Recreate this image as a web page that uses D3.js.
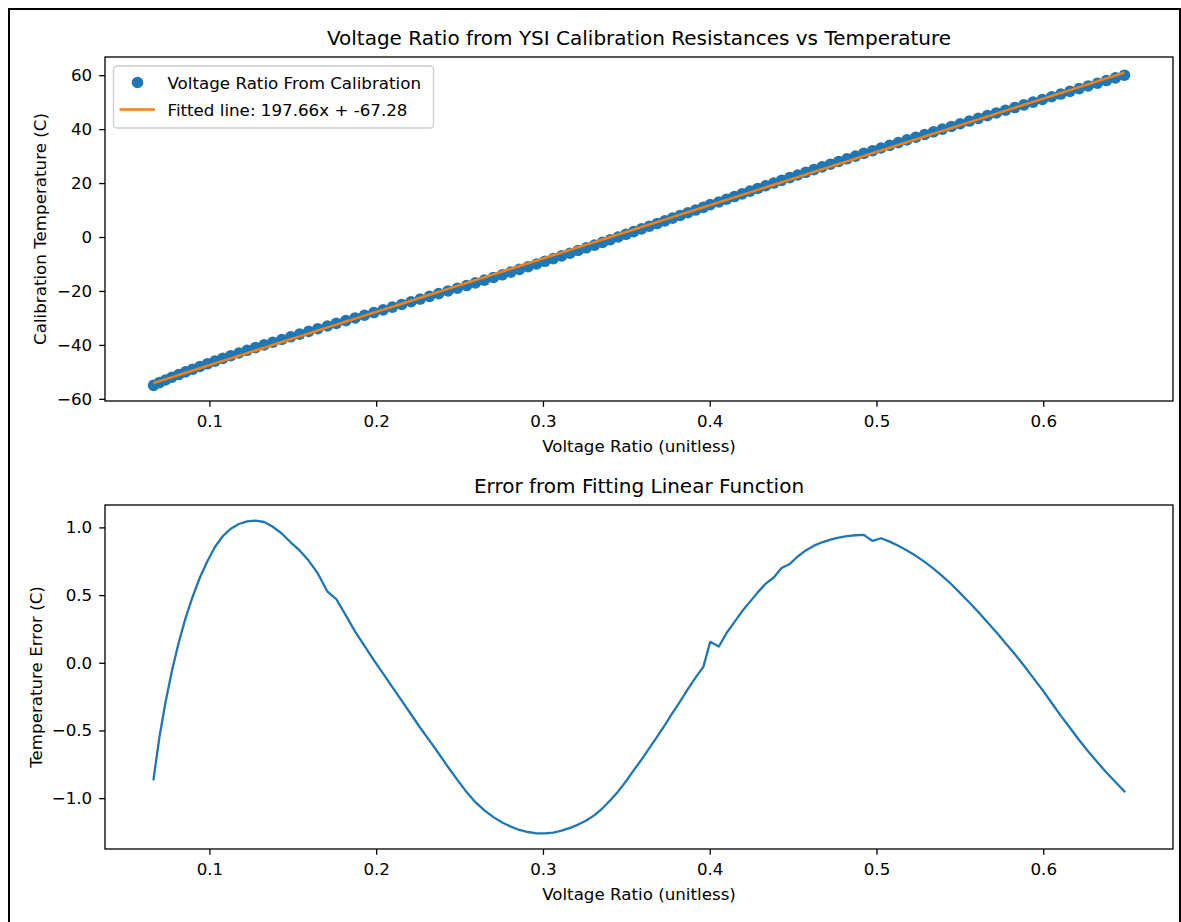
<!DOCTYPE html>
<html lang='en'>
<head>
	<meta http-equiv='Content-Type' content='text/html;charset=utf-8'/>
	<title>Voltage Ratio vs Temperature</title>
	<script src='https://d3js.org/d3.v7.min.js'></script>
	<style>
		body { margin: 0; background: #ffffff; }
		text { font-family: 'DejaVu Sans', sans-serif; fill: #000000; }
		.axis text { font-size: 16.7px; }
		.axis line { stroke: #000000; stroke-width: 1.3; }
	</style>
</head>
<body>
<script>
'use strict'

// calibration temperatures (C)
const temperature = [
	-55, -54, -53, -52, -51, -50, -49, -48, -47, -46,
	-45, -44, -43, -42, -41, -40, -39, -38, -37, -36,
	-35, -34, -33, -32, -31, -30, -29, -28, -27, -26,
	-25, -24, -23, -22, -21, -20, -19, -18, -17, -16,
	-15, -14, -13, -12, -11, -10, -9, -8, -7, -6,
	-5, -4, -3, -2, -1, 0, 1, 2, 3, 4,
	5, 6, 7, 8, 9, 10, 11, 12, 13, 14,
	15, 16, 17, 18, 19, 20, 21, 22, 23, 24,
	25, 26, 27, 28, 29, 30, 31, 32, 33, 34,
	35, 36, 37, 38, 39, 40, 41, 42, 43, 44,
	45, 46, 47, 48, 49, 50, 51, 52, 53, 54,
	55, 56, 57, 58, 59, 60
]

// voltage ratio for each calibration resistance
const voltageRatio = [
	0.0665, 0.0700, 0.0737, 0.0775, 0.0816, 0.0857, 0.0900, 0.0943, 0.0988, 0.1033,
	0.1080, 0.1128, 0.1177, 0.1226, 0.1276, 0.1328, 0.1380, 0.1434, 0.1487, 0.1541,
	0.1595, 0.1650, 0.1708, 0.1761, 0.1818, 0.1874, 0.1930, 0.1986, 0.2042, 0.2097,
	0.2153, 0.2209, 0.2264, 0.2320, 0.2375, 0.2431, 0.2487, 0.2542, 0.2595, 0.2649,
	0.2703, 0.2756, 0.2808, 0.2859, 0.2911, 0.2962, 0.3012, 0.3062, 0.3112, 0.3162,
	0.3211, 0.3260, 0.3309, 0.3357, 0.3404, 0.3451, 0.3498, 0.3544, 0.3591, 0.3638,
	0.3685, 0.3731, 0.3777, 0.3823, 0.3869, 0.3915, 0.3962, 0.4003, 0.4055, 0.4101,
	0.4148, 0.4194, 0.4241, 0.4288, 0.4336, 0.4384, 0.4431, 0.4480, 0.4528, 0.4576,
	0.4625, 0.4674, 0.4724, 0.4773, 0.4823, 0.4874, 0.4924, 0.4977, 0.5027, 0.5079,
	0.5131, 0.5183, 0.5236, 0.5289, 0.5342, 0.5395, 0.5449, 0.5502, 0.5557, 0.5611,
	0.5665, 0.5719, 0.5774, 0.5829, 0.5884, 0.5939, 0.5995, 0.6050, 0.6105, 0.6160,
	0.6215, 0.6270, 0.6325, 0.6379, 0.6433, 0.6487
]

// error of the linear fit at each point (C)
const tempError = [
	-0.86, -0.55, -0.29, -0.06, 0.15, 0.33, 0.49, 0.63, 0.75, 0.855,
	0.935, 0.99, 1.025, 1.045, 1.05, 1.04, 1.005, 0.955, 0.89, 0.83,
	0.755, 0.66, 0.525, 0.47, 0.35, 0.23, 0.125, 0.02, -0.08, -0.18,
	-0.28, -0.38, -0.48, -0.575, -0.67, -0.77, -0.865, -0.955, -1.03, -1.09,
	-1.14, -1.18, -1.21, -1.235, -1.25, -1.26, -1.26, -1.255, -1.24, -1.22,
	-1.195, -1.165, -1.125, -1.075, -1.015, -0.95, -0.875, -0.795, -0.715, -0.63,
	-0.545, -0.46, -0.37, -0.285, -0.195, -0.11, -0.03, 0.155, 0.12, 0.22,
	0.30, 0.38, 0.45, 0.52, 0.585, 0.63, 0.70, 0.73, 0.785, 0.83,
	0.865, 0.89, 0.91, 0.925, 0.935, 0.942, 0.945, 0.90, 0.92, 0.895,
	0.865, 0.83, 0.79, 0.745, 0.695, 0.64, 0.58, 0.515, 0.445, 0.375,
	0.30, 0.225, 0.145, 0.065, -0.02, -0.11, -0.20, -0.295, -0.39, -0.48,
	-0.57, -0.655, -0.735, -0.81, -0.88, -0.95
]

// fitted line: 197.66x + -67.28
const slope = 197.66
const intercept = -67.28

const xTicks = [0.1, 0.2, 0.3, 0.4, 0.5, 0.6]
const tempTicks = [-60, -40, -20, 0, 20, 40, 60]
const errorTicks = [-1.0, -0.5, 0.0, 0.5, 1.0]

const blue = '#1f77b4'
const orange = '#ff7f0e'

const left = 105
const right = 1173
const top1 = 57, bottom1 = 401
const top2 = 505, bottom2 = 849
const midX = (left + right) / 2

const svg = d3.select('body').append('svg')
	.attr('width', 1181)
	.attr('height', 922)

svg.append('rect')
	.attr('width', '100%')
	.attr('height', '100%')
	.attr('fill', '#ffffff')

// frame of the screenshot
svg.append('path')
	.attr('d', 'M9,922V9H1180V922')
	.attr('fill', 'none')
	.attr('stroke', '#000000')
	.attr('stroke-width', 2)

const fitted = voltageRatio.map(v => slope * v + intercept)

// matplotlib style 5% margins
function pad(ext)
{
	const m = (ext[1] - ext[0]) * 0.05
	return [ext[0] - m, ext[1] + m]
}

const x = d3.scaleLinear()
	.domain(pad(d3.extent(voltageRatio)))
	.range([left, right])

const yTemp = d3.scaleLinear()
	.domain(pad(d3.extent(temperature.concat(fitted))))
	.range([bottom1, top1])

const yErr = d3.scaleLinear()
	.domain(pad(d3.extent(tempError)))
	.range([bottom2, top2])

/**
 * drawAxes
 * ticks, labels and frame for one panel
 */
function drawAxes(y, top, bottom, yTicks, yFmt, title, xLabel, yLabel, yLabelX)
{
	svg.append('g')
		.attr('class', 'axis')
		.attr('transform', `translate(0,${bottom})`)
		.call(d3.axisBottom(x).tickValues(xTicks).tickFormat(d3.format('.1f')).tickSize(5.8).tickPadding(8.3))
		.call(g => g.select('.domain').remove())

	svg.append('g')
		.attr('class', 'axis')
		.attr('transform', `translate(${left},0)`)
		.call(d3.axisLeft(y).tickValues(yTicks).tickFormat(yFmt).tickSize(5.8).tickPadding(7))
		.call(g => g.select('.domain').remove())

	svg.append('rect')
		.attr('x', left)
		.attr('y', top)
		.attr('width', right - left)
		.attr('height', bottom - top)
		.attr('fill', 'none')
		.attr('stroke', '#000000')
		.attr('stroke-width', 1.3)

	svg.append('text')
		.attr('x', midX)
		.attr('y', top - 12.5)
		.attr('text-anchor', 'middle')
		.style('font-size', '20px')
		.text(title)

	svg.append('text')
		.attr('x', midX)
		.attr('y', bottom + 51)
		.attr('text-anchor', 'middle')
		.style('font-size', '16.7px')
		.text(xLabel)

	svg.append('text')
		.attr('transform', `translate(${yLabelX},${(top + bottom) / 2}) rotate(-90)`)
		.attr('text-anchor', 'middle')
		.style('font-size', '16.7px')
		.text(yLabel)
}

// top panel: scatter + fitted line
svg.append('g')
	.selectAll('circle')
	.data(voltageRatio)
	.join('circle')
	.attr('cx', d => x(d))
	.attr('cy', (d, i) => yTemp(temperature[i]))
	.attr('r', 5.8)
	.attr('fill', blue)

svg.append('path')
	.attr('d', d3.line().x((d, i) => x(voltageRatio[i])).y(d => yTemp(d))(fitted))
	.attr('fill', 'none')
	.attr('stroke', orange)
	.attr('stroke-width', 2.5)

drawAxes(yTemp, top1, bottom1, tempTicks, d3.format('d'),
	'Voltage Ratio from YSI Calibration Resistances vs Temperature',
	'Voltage Ratio (unitless)', 'Calibration Temperature (C)', 46)

// legend
const legend = svg.append('g').attr('transform', 'translate(113.5,66)')
legend.append('rect')
	.attr('width', 320)
	.attr('height', 62)
	.attr('rx', 3.5)
	.attr('fill', '#ffffff')
	.attr('fill-opacity', 0.8)
	.attr('stroke', '#cccccc')
	.attr('stroke-width', 1.3)
legend.append('circle')
	.attr('cx', 24)
	.attr('cy', 16.5)
	.attr('r', 5.8)
	.attr('fill', blue)
legend.append('line')
	.attr('x1', 6)
	.attr('x2', 41.5)
	.attr('y1', 43.5)
	.attr('y2', 43.5)
	.attr('stroke', orange)
	.attr('stroke-width', 2.5)
legend.append('text')
	.attr('x', 54)
	.attr('y', 22.5)
	.style('font-size', '16.7px')
	.text('Voltage Ratio From Calibration')
legend.append('text')
	.attr('x', 54)
	.attr('y', 49.5)
	.style('font-size', '16.7px')
	.text('Fitted line: ' + slope + 'x + ' + intercept)

// bottom panel: error curve
svg.append('path')
	.attr('d', d3.line().x((d, i) => x(voltageRatio[i])).y(d => yErr(d))(tempError))
	.attr('fill', 'none')
	.attr('stroke', blue)
	.attr('stroke-width', 2.3)
	.attr('stroke-linejoin', 'round')
	.attr('stroke-linecap', 'square')

drawAxes(yErr, top2, bottom2, errorTicks, d3.format('.1f'),
	'Error from Fitting Linear Function',
	'Voltage Ratio (unitless)', 'Temperature Error (C)', 42)
</script>
</body>
</html>
